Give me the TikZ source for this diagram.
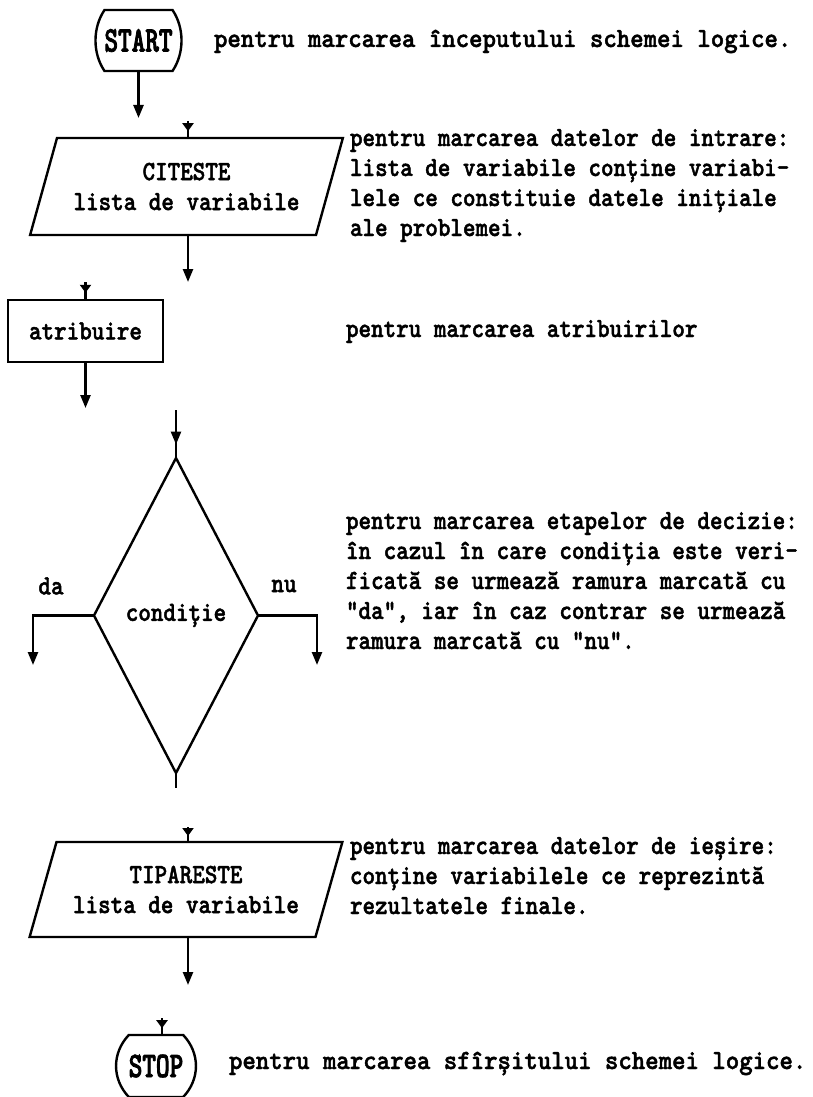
\documentclass[tikz,border=0pt]{standalone}
\usepackage{fontspec}
\newfontfamily\typefont{lmmonolt10-bold.otf}[FakeStretch=0.86,FakeBold=1.6]
\newfontfamily\widefont{lmmonolt10-bold.otf}[FakeStretch=0.92,FakeBold=1.6]
\newfontfamily\capfont{lmmonolt10-bold.otf}[FakeStretch=0.72,FakeBold=2.2]
\usetikzlibrary{arrows.meta,shapes.geometric,decorations.markings,calc}

% outline of a terminal symbol (START / STOP): straight top and bottom,
% sides bowed outwards like brackets
\newcommand\terminalpath[2]{%
  \draw[ln] (#1.north west) -- (#1.north east)
    .. controls ([xshift=#2,yshift=-18pt]#1.north east) and ([xshift=#2,yshift=18pt]#1.south east) .. (#1.south east)
    -- (#1.south west)
    .. controls ([xshift=-#2,yshift=18pt]#1.south west) and ([xshift=-#2,yshift=-18pt]#1.north west) .. cycle;}

\begin{document}
\begin{tikzpicture}[x=1pt,y=-1pt,
  every node/.style={inner sep=0pt, outer sep=0pt},
  txt/.style={font=\typefont\fontsize{27.8}{30}\selectfont},
  widetxt/.style={font=\widefont\fontsize{27.8}{30}\selectfont},
  captxt/.style={font=\capfont\fontsize{36}{36}\selectfont},
  % notes are placed by the baseline of their last line
  note/.style={txt, anchor=base west, align=left},
  ln/.style={line width=2.4pt},
  flow/.style={ln, -{Triangle[length=13pt,width=10pt]}},
  tick/.style={ln, postaction={decorate},
    decoration={markings, mark=at position 0.6 with {\arrow{Triangle[length=8pt,width=11pt]}}}},
  midflow/.style={ln, postaction={decorate},
    decoration={markings, mark=at position 0.72 with {\arrow{Triangle[length=13pt,width=10pt]}}}},
  iobox/.style={txt, draw, ln, trapezium, trapezium left angle=63.7, trapezium right angle=116.3,
    trapezium stretches=true, minimum width=313pt, align=center},
]
\useasboundingbox (0,0) rectangle (812,1097);

% ---------- START ----------
\node[captxt, minimum width=68pt, minimum height=61pt] (start) at (138.5,40.5) {START};
\terminalpath{start}{12pt}
\coordinate (startout) at (138.5,118);
\draw[flow] (start.south) -- (startout);
\node[note, widetxt] (n1) at (214,47) {pentru marcarea începutului schemei logice.};

% ---------- input ----------
\node[iobox, minimum height=97pt] (cit) at (186.5,186.5) {CITESTE\\lista de variabile};
\coordinate (citin) at (188,121);
\draw[tick] (citin) -- (citin |- cit.north);
\coordinate (citout) at (188,282);
\draw[flow] (citout |- cit.south) -- (citout);
\node[note] (n2) at (350,236) {pentru marcarea datelor de intrare:\\lista de variabile conține variabi-\\lele ce constituie datele inițiale\\ale problemei.};

% ---------- assignment ----------
\node[txt, draw, ln, minimum width=155pt, minimum height=62pt] (atr) at (85.5,331) {atribuire};
\coordinate (atrin) at (85.5,282);
\draw[tick] (atrin) -- (atr.north);
\coordinate (atrout) at (85.5,408);
\draw[flow] (atr.south) -- (atrout);
\node[note] (n3) at (346,337) {pentru marcarea atribuirilor};

% ---------- decision ----------
\node[txt, draw, ln, diamond, minimum width=164pt, minimum height=315pt] (cond) at (176,615.5) {condiție};
\coordinate (condin) at (176,410);
\draw[midflow] (condin) -- (cond.north);
\coordinate (condout) at (176,788);
\draw[ln] (cond.south) -- (condout);
\coordinate (daout) at (33,665);
\coordinate (nuout) at (317,665);
\draw[flow] (cond.west) -| (daout);
\draw[flow] (cond.east) -| (nuout);
\node[txt] (da) at (51,586) {da};
\node[txt] (nu) at (284,586) {nu};
\node[note] (n4) at (346,649) {pentru marcarea etapelor de decizie:\\în cazul în care condiția este veri-\\ficată se urmează ramura marcată cu\\"da", iar în caz contrar se urmează\\ramura marcată cu "nu".};

% ---------- output ----------
\node[iobox, minimum height=95pt] (tip) at (186,889.5) {TIPARESTE\\lista de variabile};
\coordinate (tipin) at (188,827);
\draw[tick] (tipin) -- (tipin |- tip.north);
\coordinate (tipout) at (188,985);
\draw[flow] (tipout |- tip.south) -- (tipout);
\node[note] (n5) at (350,914) {pentru marcarea datelor de ieșire:\\conține variabilele ce reprezintă\\rezultatele finale.};

% ---------- STOP ----------
\node[captxt, minimum width=52pt, minimum height=62pt] (stop) at (156,1066) {STOP};
\terminalpath{stop}{17pt}
\coordinate (stopin) at (162,1018);
\draw[tick] (stopin) -- (stopin |- stop.north);
\node[note, widetxt] (n6) at (229,1069) {pentru marcarea sfîrșitului schemei logice.};
\end{tikzpicture}
\end{document}
